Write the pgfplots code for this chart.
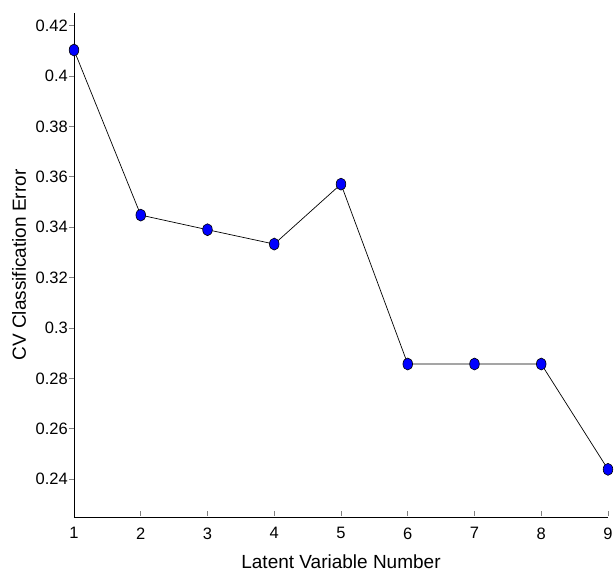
\documentclass[border=0pt]{standalone}
\usepackage{pgfplots}
\pgfplotsset{compat=1.18}
\usepackage{fontspec}
\setmainfont{Liberation Sans}
\begin{document}
\begin{tikzpicture}
\useasboundingbox (-74pt,-55pt) rectangle (540pt,517pt);
\begin{axis}[
  at={(0,0)}, anchor=south west,
  scale only axis, width=534pt, height=504pt,
  xmin=1, xmax=9, ymin=0.225, ymax=0.425,
  axis lines=left, axis line style={-, line width=0.9pt},
  xtick={1,...,9},
  ytick={0.24,0.26,...,0.421},
  tick align=outside, major tick length=5pt,
  xtick style={yshift=6pt, line width=0.8pt},
  ytick style={line width=0.8pt},
  tick label style={font=\fontsize{16.5}{19}\selectfont},
  /pgf/number format/assume math mode=true,
  yticklabel style={/pgf/number format/fixed, inner sep=1pt},
  xticklabel style={yshift=-2pt},
  label style={font=\fontsize{19}{22}\selectfont},
  xlabel={Latent Variable Number},
  ylabel={CV Classification Error},
  xlabel shift=9pt, ylabel shift=5pt,
  clip=false,
]
\addplot[black, line width=0.7pt, mark=*, mark size=6pt,
  mark options={fill=blue, draw=black, line width=0.6pt, xscale=0.8}]
  coordinates {
  (1,0.4103) (2,0.3448) (3,0.3390) (4,0.3333) (5,0.3571)
  (6,0.2857) (7,0.2857) (8,0.2857) (9,0.2439)
};
\end{axis}
\end{tikzpicture}
\end{document}
